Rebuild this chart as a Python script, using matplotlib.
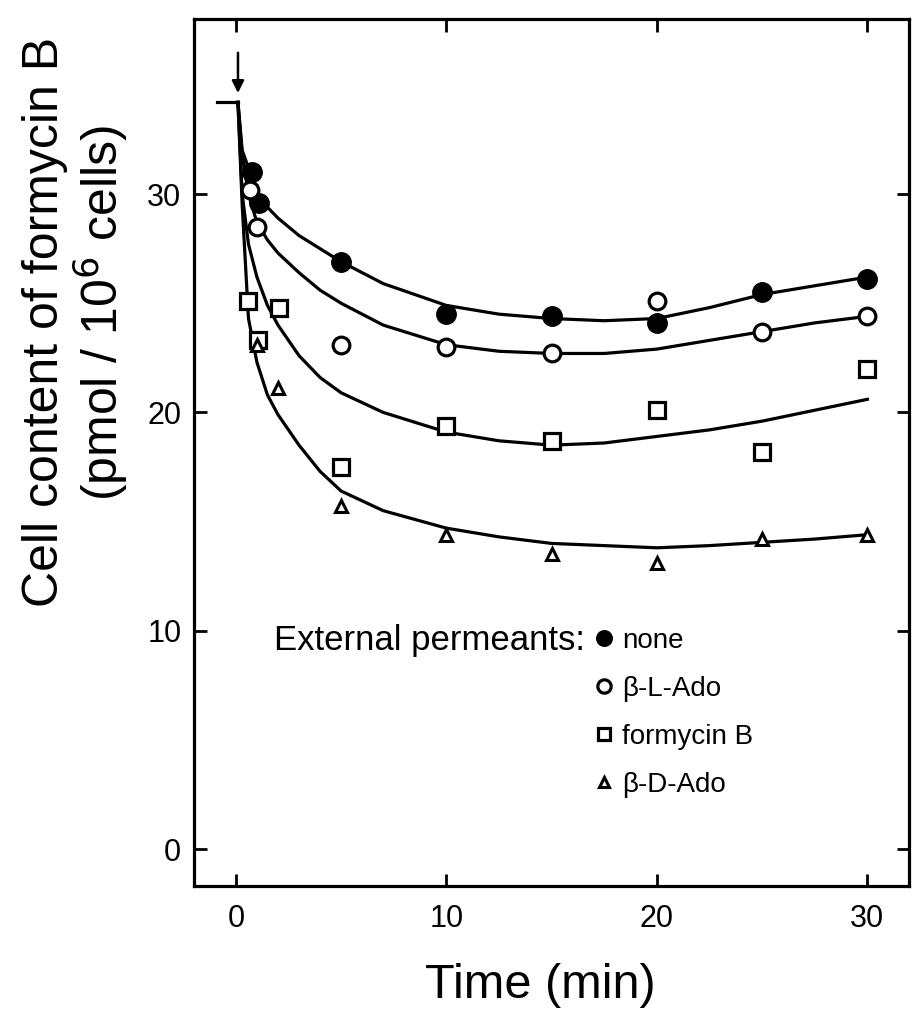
import matplotlib
matplotlib.use("Agg")
import matplotlib.pyplot as plt

plt.rcParams['font.family'] = ['Liberation Sans', 'DejaVu Sans']

# measured cell content (pmol / 10^6 cells) vs time (min)
t_none = [0.75, 1.1, 5, 10, 15, 20, 25, 30]
y_none = [31.0, 29.6, 26.9, 24.5, 24.4, 24.1, 25.5, 26.1]

t_lado = [0.68, 1.0, 5, 10, 15, 20, 25, 30]
y_lado = [30.2, 28.5, 23.1, 23.0, 22.7, 25.1, 23.7, 24.4]

t_form = [0.6, 1.07, 2.05, 5, 10, 15, 20, 25, 30]
y_form = [25.1, 23.3, 24.8, 17.5, 19.4, 18.7, 20.1, 18.2, 22.0]

t_dado = [1.0, 2.0, 5, 10, 15, 20, 25, 30]
y_dado = [23.1, 21.1, 15.7, 14.4, 13.5, 13.1, 14.2, 14.4]

# fitted efflux curves
t_fit = [0.1, 0.3, 0.6, 1, 1.5, 2, 3, 4, 5, 7, 10, 12.5, 15, 17.5, 20, 22.5, 25, 27.5, 30]
fit_none = [34.2, 32.0, 31.2, 30.0, 29.4, 28.9, 28.1, 27.5, 26.9, 25.9, 24.9, 24.5, 24.3, 24.2, 24.3, 24.8, 25.4, 25.8, 26.2]
fit_lado = [34.2, 31.8, 30.0, 28.7, 27.9, 27.3, 26.4, 25.6, 25.0, 24.0, 23.1, 22.8, 22.7, 22.7, 22.9, 23.3, 23.7, 24.1, 24.4]
fit_form = [34.2, 30.0, 27.7, 26.2, 24.9, 24.0, 22.6, 21.6, 20.9, 20.0, 19.1, 18.7, 18.5, 18.6, 18.9, 19.2, 19.6, 20.1, 20.6]
fit_dado = [34.2, 29.5, 24.3, 22.3, 20.8, 19.9, 18.5, 17.3, 16.4, 15.5, 14.7, 14.3, 14.0, 13.9, 13.8, 13.9, 14.05, 14.2, 14.4]

# starting level and addition time
t_start = [-0.9, 0.1]
y_start = [34.2, 34.2]
t_add = 0.1

xticks = [0, 10, 20, 30]
yticks = [0, 10, 20, 30]

fig = plt.figure(figsize=(9.14, 10.21), dpi=100)
ax = fig.add_axes([0.212, 0.132, 0.783, 0.849])

lw = 2.3
for yf in (fit_none, fit_lado, fit_form, fit_dado):
    ax.plot(t_fit, yf, color='black', lw=lw, zorder=2)
ax.plot(t_start, y_start, color='black', lw=lw, zorder=2)
ax.annotate('', xy=(t_add, 34.5), xytext=(t_add, 36.6),
            arrowprops=dict(arrowstyle='-|>', color='black', lw=1.8,
                            mutation_scale=18))

ax.plot(t_none, y_none, ls='none', marker='o', ms=14, mfc='black',
        mec='black', label='none', zorder=3)
ax.plot(t_lado, y_lado, ls='none', marker='o', ms=12, mfc='white',
        mec='black', mew=2.3, label='β-L-Ado', zorder=4)
ax.plot(t_form, y_form, ls='none', marker='s', ms=11, mfc='white',
        mec='black', mew=2.3, label='formycin B', zorder=4)
ax.plot(t_dado, y_dado, ls='none', marker='^', ms=9, mfc='white',
        mec='black', mew=2.2, label='β-D-Ado', zorder=4)

ax.set_xlim(-2.0, 32.0)
ax.set_ylim(-1.7, 38.0)
ax.set_xticks(xticks)
ax.set_yticks(yticks)
ax.tick_params(direction='in', length=9, width=2, labelsize=22,
               top=True, right=True)
ax.tick_params(axis='y', pad=9)
ax.tick_params(axis='x', pad=13)
for s in ax.spines.values():
    s.set_linewidth(2.3)

leg = ax.legend(loc='upper left', bbox_to_anchor=(0.554, 0.298),
                frameon=False, fontsize=20, handlelength=1.0,
                handletextpad=0.15, labelspacing=0.79, markerscale=0.8,
                borderaxespad=0, borderpad=0)
ax.text(0.546, 0.284, 'External permeants:', transform=ax.transAxes,
        ha='right', va='center', fontsize=25)

fig.text(45 / 914, 1 - 322 / 1021, 'Cell content of formycin B',
         rotation=90, ha='center', va='center', fontsize=36)
fig.text(100 / 914, 1 - 313 / 1021, '(pmol / 10$^6$ cells)',
         rotation=90, ha='center', va='center', fontsize=36)
fig.text(540 / 914, 1 - 985 / 1021, 'Time (min)',
         ha='center', va='center', fontsize=35)

fig.savefig('out.png', dpi=100)
